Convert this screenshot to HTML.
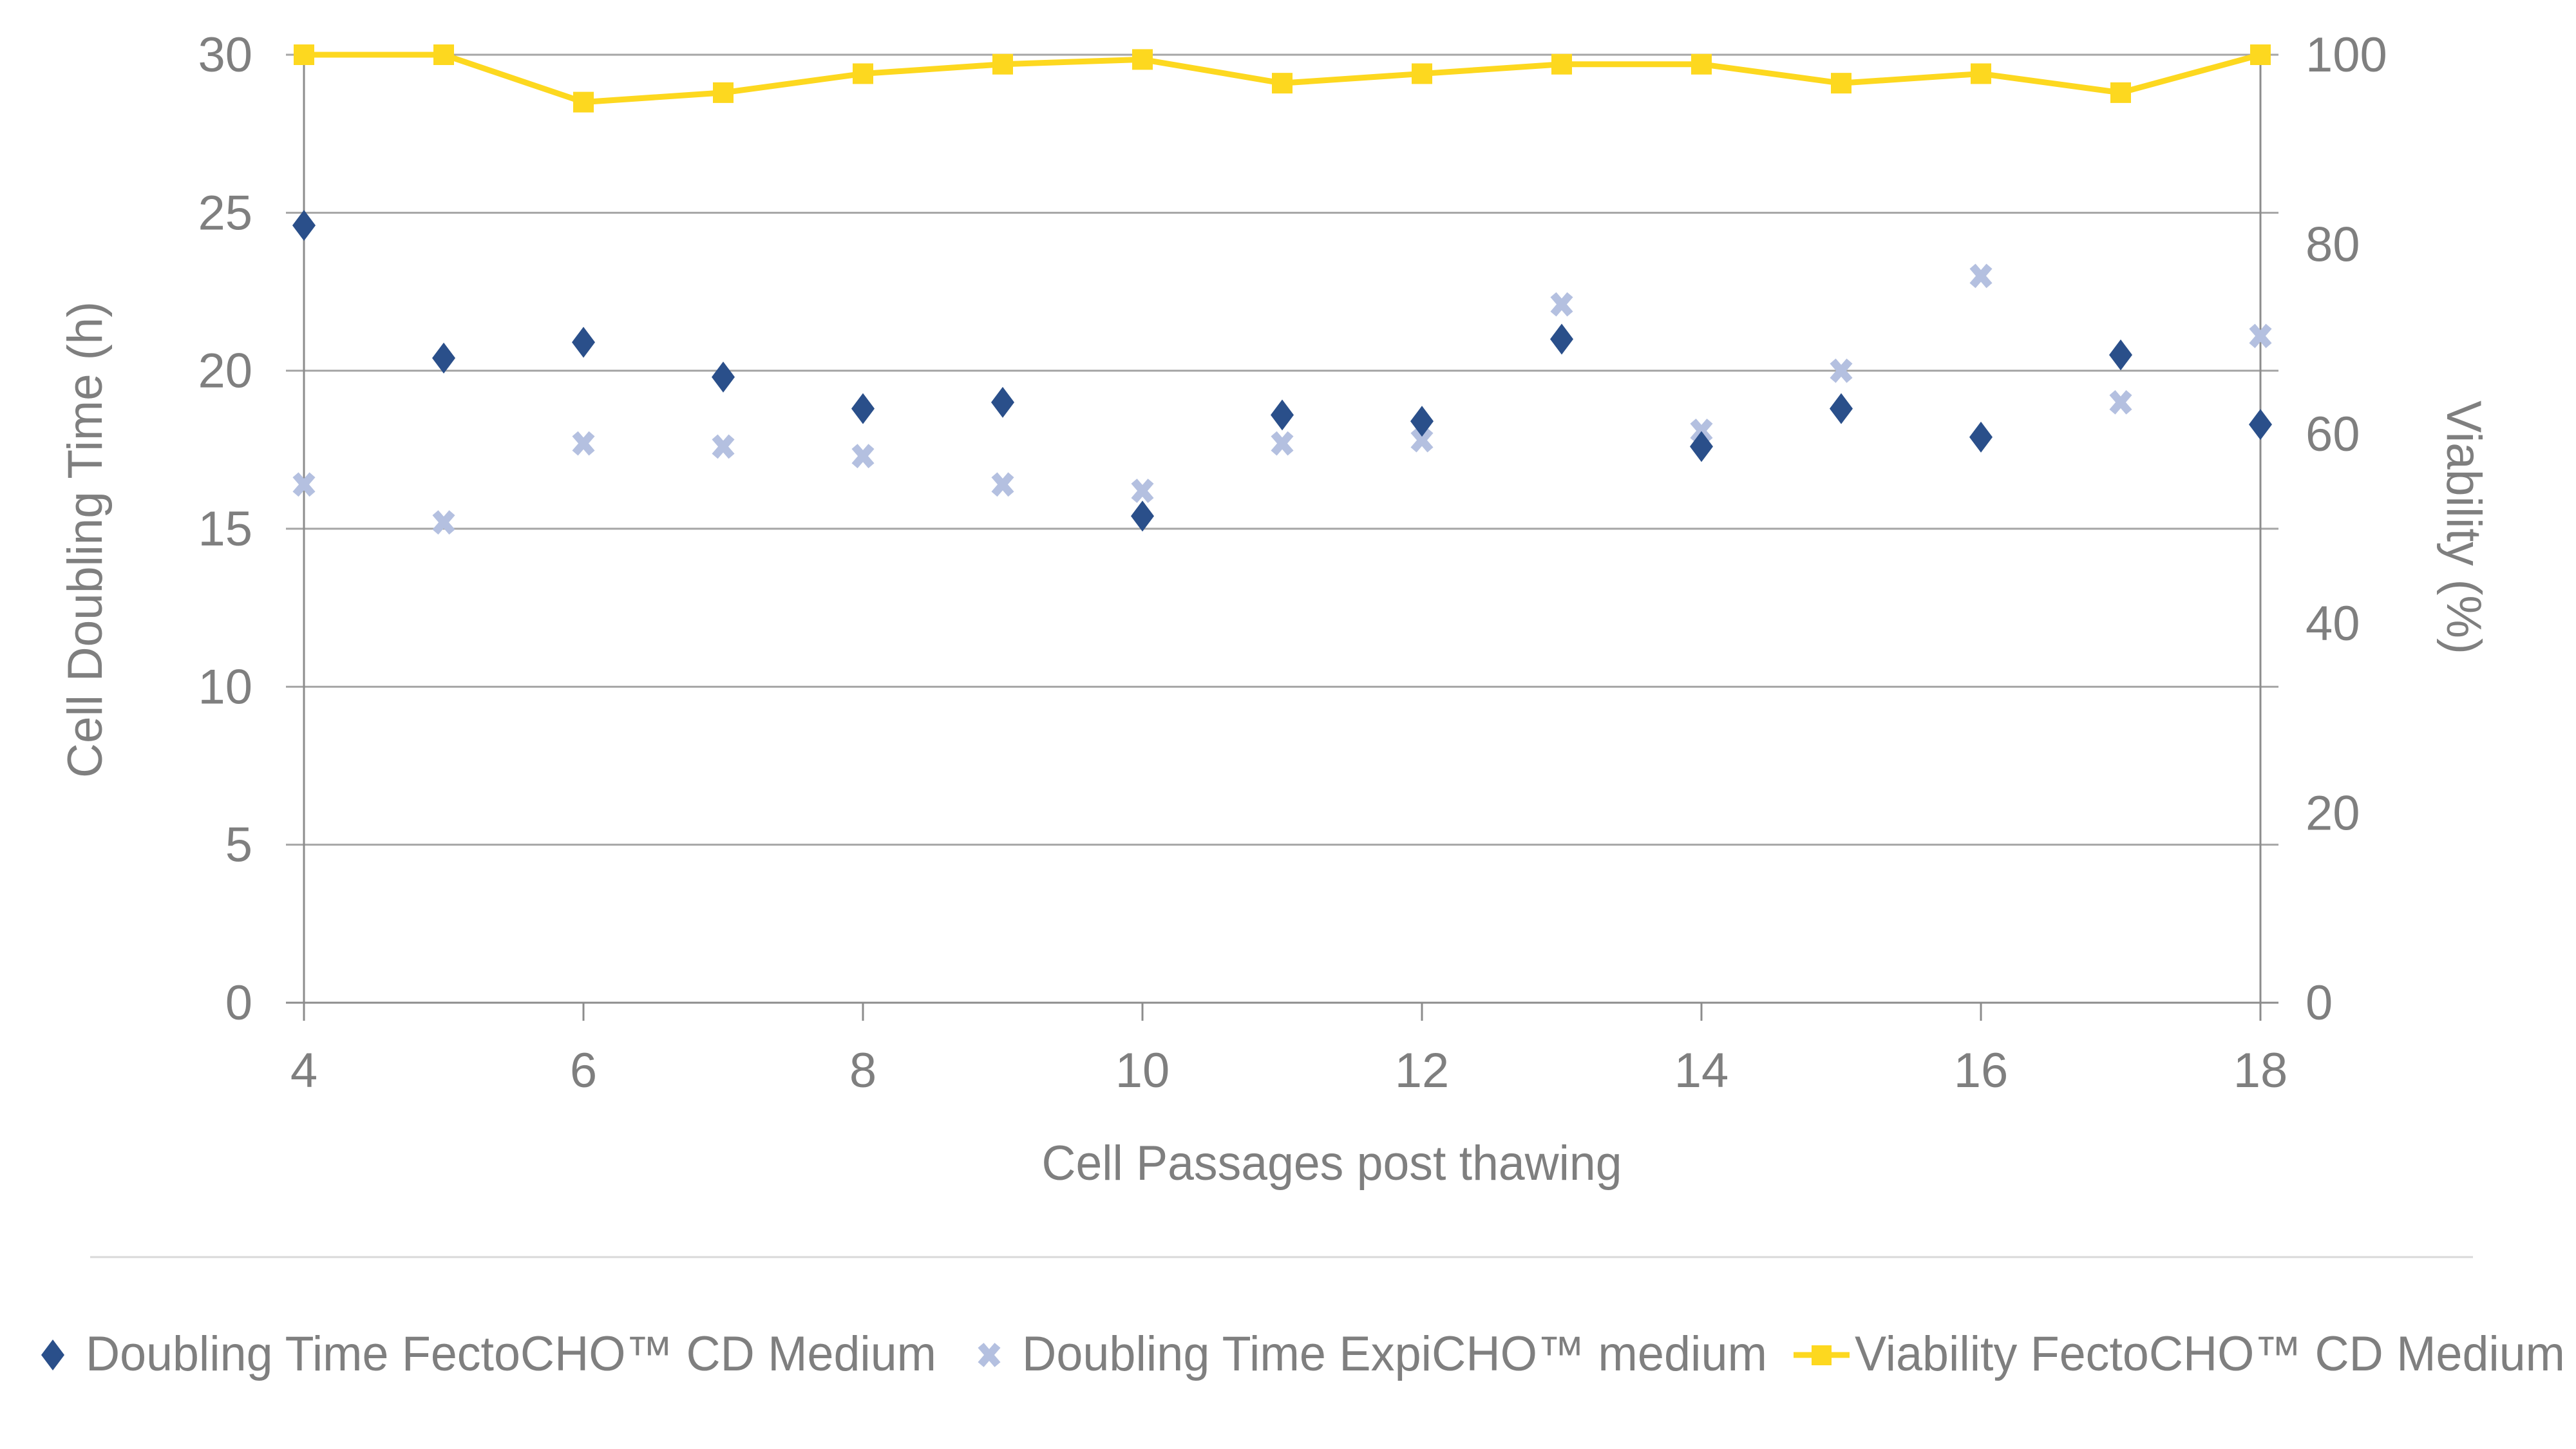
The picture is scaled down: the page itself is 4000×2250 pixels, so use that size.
<!DOCTYPE html>
<html><head><meta charset="utf-8"><style>
html,body{margin:0;padding:0;background:#fff;}
svg{display:block;font-family:"Liberation Sans",sans-serif;}
</style></head><body>
<svg id="chart" width="4000" height="2250" viewBox="0 0 4000 2250" xmlns="http://www.w3.org/2000/svg">
<g id="grid"></g>
<g id="axes"></g>
<g id="series"></g>
<text transform="translate(158,838) rotate(-90)" text-anchor="middle" font-size="76" fill="#7f7f7f" textLength="740" lengthAdjust="spacingAndGlyphs">Cell Doubling Time (h)</text>
<text transform="translate(3800,819) rotate(90)" text-anchor="middle" font-size="76" fill="#7f7f7f" textLength="394" lengthAdjust="spacingAndGlyphs">Viability (%)</text>
<text x="2068" y="1832" text-anchor="middle" font-size="76" fill="#7f7f7f" textLength="901" lengthAdjust="spacingAndGlyphs">Cell Passages post thawing</text>
<line x1="140" y1="1952" x2="3840" y2="1952" stroke="#d9d9d9" stroke-width="3"/>
<g font-size="76" fill="#7f7f7f">
  <g>
    <path d="M82,2080 L100,2104 L82,2128 L64,2104 Z" fill="#2a4f8a"/>
    <text x="133" y="2128" textLength="1321" lengthAdjust="spacingAndGlyphs">Doubling Time FectoCHO™ CD Medium</text>
  </g>
  <g>
    <path d="M1523,2089 L1549,2119 M1549,2089 L1523,2119" stroke="#b4c0e0" stroke-width="12"/>
    <text x="1587" y="2128" textLength="1157" lengthAdjust="spacingAndGlyphs">Doubling Time ExpiCHO™ medium</text>
  </g>
  <g>
    <line x1="2785" y1="2104" x2="2872" y2="2104" stroke="#fdd81f" stroke-width="9"/>
    <rect x="2813" y="2089" width="31" height="31" fill="#fdd81f"/>
    <text x="2880" y="2128" textLength="1103" lengthAdjust="spacingAndGlyphs">Viability FectoCHO™ CD Medium</text>
  </g>
</g>
</svg>
<script>
const passages = [4,5,6,7,8,9,10,11,12,13,14,15,16,17,18];
const fectoDoubling = [24.6,20.4,20.9,19.8,18.8,19.0,15.4,18.6,18.4,21.0,17.6,18.8,17.9,20.5,18.3];
const expiDoubling = [16.4,15.2,17.7,17.6,17.3,16.4,16.2,17.7,17.8,22.1,18.1,20.0,23.0,19.0,21.1];
const fectoViability = [100,100,95,96,98,99,99.5,97,98,99,99,97,98,96,100];
const yTicks = [0,5,10,15,20,25,30];
const y2Ticks = [0,20,40,60,80,100];
const xTicks = [4,6,8,10,12,14,16,18];

const NS = "http://www.w3.org/2000/svg";
const X0 = 472, X1 = 3510, Y0 = 1557, Y1 = 85;
const xs = v => X0 + (v - 4) / 14 * (X1 - X0);
const ys = v => Y0 - v / 30 * (Y0 - Y1);
const ys2 = v => Y0 - v / 100 * (Y0 - Y1);
function mk(tag, attrs, parent) {
  const e = document.createElementNS(NS, tag);
  for (const k in attrs) e.setAttribute(k, attrs[k]);
  parent.appendChild(e);
  return e;
}
const grid = document.getElementById('grid');
const axes = document.getElementById('axes');
const series = document.getElementById('series');

yTicks.forEach(t => {
  if (t > 0) {
    const l = mk('line', {x1: X0 - 28, x2: X1 + 28, y1: ys(t), y2: ys(t), stroke: '#a6a6a6', 'stroke-width': 3}, grid);
    
    
  }
  const tx = mk('text', {x: 392, y: ys(t) + 26, 'text-anchor': 'end', 'font-size': 76, fill: '#7f7f7f'}, axes);
  tx.textContent = t;
  
  
});
y2Ticks.forEach(t => {
  const tx = mk('text', {x: 3580, y: ys2(t) + 26, 'text-anchor': 'start', 'font-size': 76, fill: '#7f7f7f'}, axes);
  tx.textContent = t;
  
  
});
let ax = mk('line', {x1: X0 - 28, x2: X1 + 28, y1: Y0, y2: Y0, stroke: '#8c8c8c', 'stroke-width': 3}, axes);


ax = mk('line', {x1: X0, x2: X0, y1: Y1, y2: Y0 + 28, stroke: '#8c8c8c', 'stroke-width': 3}, axes);


ax = mk('line', {x1: X1, x2: X1, y1: Y1, y2: Y0 + 28, stroke: '#8c8c8c', 'stroke-width': 3}, axes);


xTicks.forEach(t => {
  const l = mk('line', {x1: xs(t), x2: xs(t), y1: Y0, y2: Y0 + 28, stroke: '#8c8c8c', 'stroke-width': 3}, axes);
  
  
  const tx = mk('text', {x: xs(t), y: 1688, 'text-anchor': 'middle', 'font-size': 76, fill: '#7f7f7f'}, axes);
  tx.textContent = t;
  
  
});

const pts = passages.map((p, i) => xs(p) + ',' + ys2(fectoViability[i])).join(' ');
const pl = mk('polyline', {points: pts, fill: 'none', stroke: '#fdd81f', 'stroke-width': 9, 'stroke-linejoin': 'round'}, series);


passages.forEach((p, i) => {
  const r = mk('rect', {x: xs(p) - 16, y: ys2(fectoViability[i]) - 16, width: 32, height: 32, fill: '#fdd81f'}, series);
  
  
});
passages.forEach((p, i) => {
  const x = xs(p), y = ys(expiDoubling[i]);
  const c = mk('path', {d: `M${x-13},${y-15} L${x+13},${y+15} M${x+13},${y-15} L${x-13},${y+15}`, stroke: '#b4c0e0', 'stroke-width': 12}, series);
  
  
});
passages.forEach((p, i) => {
  const x = xs(p), y = ys(fectoDoubling[i]);
  const d = mk('path', {d: `M${x},${y-24} L${x+18},${y} L${x},${y+24} L${x-18},${y} Z`, fill: '#2a4f8a'}, series);
  
  
});
</script>
</body></html>
